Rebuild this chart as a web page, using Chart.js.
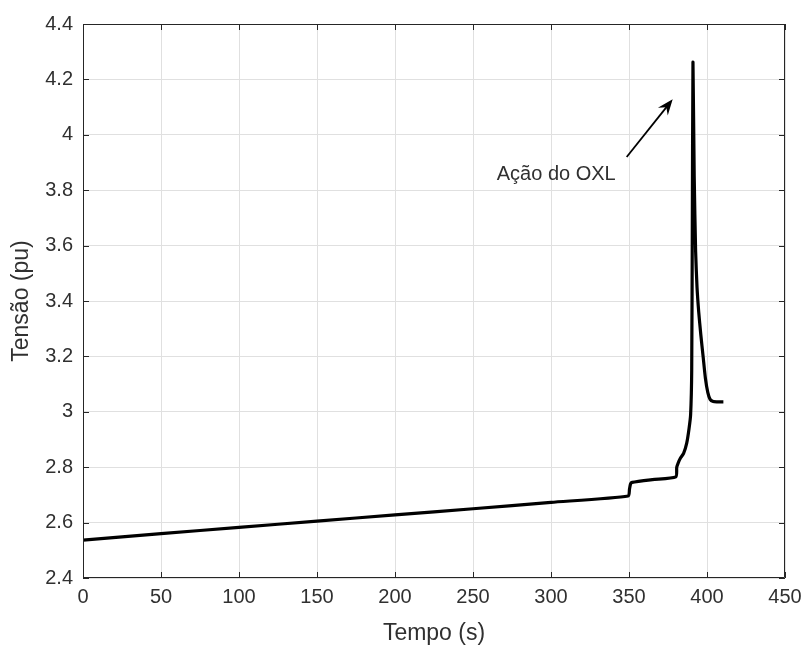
<!DOCTYPE html>
<html lang="pt">
<head>
    <meta charset="UTF-8">
    <title>Tensão x Tempo</title>
    <script src="https://cdn.jsdelivr.net/npm/chart.js"></script>
    <style>
        body { margin: 0; background: #fff; }
        .chart-container { position: relative; width: 805px; height: 648px; }
    </style>
</head>
<body>
    <div class="chart-container">
        <canvas id="voltageChart" width="805" height="648"></canvas>
    </div>

    <script>
        // values
        const timeS = [0, 50, 100, 150, 200, 250, 300, 349.5, 350.3, 351, 352, 365, 380, 380.6, 381.5, 383, 385, 387, 388.5, 389.5, 390.2, 390.6, 391, 391.8, 392.7, 393.6, 394.7, 396, 397.5, 399, 400.5, 402, 404, 406.5, 410.5];
        const voltagePu = [2.537, 2.560, 2.583, 2.605, 2.628, 2.650, 2.673, 2.696, 2.720, 2.740, 2.745, 2.755, 2.765, 2.800, 2.815, 2.833, 2.850, 2.887, 2.940, 2.990, 3.150, 3.700, 4.262, 3.850, 3.580, 3.450, 3.360, 3.280, 3.200, 3.120, 3.070, 3.045, 3.037, 3.036, 3.036];

        const xTicks = [0, 50, 100, 150, 200, 250, 300, 350, 400, 450];
        const yTicks = [2.4, 2.6, 2.8, 3, 3.2, 3.4, 3.6, 3.8, 4, 4.2, 4.4];

        const noteText = 'Ação do OXL';
        const noteAt = [341.5, 3.855];
        const arrowFrom = [348.5, 3.92];
        const arrowTo = [378, 4.128];

        const textColor = '#303030';
        const fontFamily = '"Liberation Sans", Arial, sans-serif';

        // MATLAB style box with inward ticks, plus the annotation
        const boxPlugin = {
            id: 'boxPlugin',
            afterDatasetsDraw(chart) {
                const { ctx, chartArea: a, scales } = chart;
                const x = scales.x, y = scales.y;
                ctx.save();
                ctx.strokeStyle = '#262626';
                ctx.lineWidth = 1;
                ctx.beginPath();
                ctx.rect(a.left + 0.5, a.top + 0.5, a.right - a.left - 1, a.bottom - a.top - 1);
                xTicks.forEach(t => {
                    const px = Math.round(x.getPixelForValue(t)) + 0.5;
                    ctx.moveTo(px, a.bottom); ctx.lineTo(px, a.bottom - 6);
                    ctx.moveTo(px, a.top); ctx.lineTo(px, a.top + 6);
                });
                yTicks.forEach(t => {
                    const py = Math.round(y.getPixelForValue(t)) + 0.5;
                    ctx.moveTo(a.left, py); ctx.lineTo(a.left + 6, py);
                    ctx.moveTo(a.right, py); ctx.lineTo(a.right - 6, py);
                });
                ctx.stroke();

                // annotation text
                ctx.fillStyle = textColor;
                ctx.font = '20px ' + fontFamily;
                ctx.textAlign = 'right';
                ctx.textBaseline = 'middle';
                ctx.fillText(noteText, x.getPixelForValue(noteAt[0]), y.getPixelForValue(noteAt[1]));

                // arrow
                const x0 = x.getPixelForValue(arrowFrom[0]), y0 = y.getPixelForValue(arrowFrom[1]);
                const x1 = x.getPixelForValue(arrowTo[0]), y1 = y.getPixelForValue(arrowTo[1]);
                const ang = Math.atan2(y1 - y0, x1 - x0);
                const head = 17, spread = 0.38;
                ctx.strokeStyle = '#000';
                ctx.lineWidth = 1.8;
                ctx.beginPath();
                ctx.moveTo(x0, y0);
                ctx.lineTo(x1 - Math.cos(ang) * 8, y1 - Math.sin(ang) * 8);
                ctx.stroke();
                ctx.fillStyle = '#000';
                ctx.beginPath();
                ctx.moveTo(x1, y1);
                ctx.lineTo(x1 - head * Math.cos(ang - spread), y1 - head * Math.sin(ang - spread));
                ctx.lineTo(x1 - head * 0.6 * Math.cos(ang), y1 - head * 0.6 * Math.sin(ang));
                ctx.lineTo(x1 - head * Math.cos(ang + spread), y1 - head * Math.sin(ang + spread));
                ctx.closePath();
                ctx.fill();
                ctx.restore();
            }
        };

        const points = timeS.map((t, i) => ({ x: t, y: voltagePu[i] }));

        const ctx = document.getElementById('voltageChart').getContext('2d');
        new Chart(ctx, {
            type: 'scatter',
            data: {
                datasets: [{
                    label: 'Tensão',
                    data: points,
                    showLine: true,
                    borderColor: '#000',
                    borderWidth: 3.2,
                    pointRadius: 0,
                    tension: 0.2,
                    fill: false
                }]
            },
            options: {
                responsive: false,
                animation: false,
                layout: { padding: { top: 24, right: 20, left: 0, bottom: 0 } },
                plugins: {
                    legend: { display: false },
                    tooltip: { enabled: false }
                },
                scales: {
                    x: {
                        type: 'linear',
                        min: 0,
                        max: 450,
                        afterBuildTicks: s => { s.ticks = xTicks.map(v => ({ value: v })); },
                        afterFit: s => { s.height = 70; s.paddingLeft = 0; s.paddingRight = 0; },
                        grid: { color: '#e0e0e0', drawTicks: false },
                        border: { display: false },
                        ticks: {
                            padding: 7,
                            color: textColor,
                            font: { family: fontFamily, size: 20 },
                            maxRotation: 0
                        },
                        title: {
                            display: true,
                            text: 'Tempo (s)',
                            color: textColor,
                            font: { family: fontFamily, size: 23 },
                            padding: { top: 0, bottom: 1 }
                        }
                    },
                    y: {
                        type: 'linear',
                        min: 2.4,
                        max: 4.4,
                        afterBuildTicks: s => { s.ticks = yTicks.map(v => ({ value: v })); },
                        afterFit: s => { s.width = 83; s.paddingTop = 0; s.paddingBottom = 0; },
                        grid: { color: '#e0e0e0', drawTicks: false },
                        border: { display: false },
                        ticks: {
                            padding: 10,
                            color: textColor,
                            font: { family: fontFamily, size: 20 },
                            callback: v => String(Math.round(v * 10) / 10)
                        },
                        title: {
                            display: true,
                            text: 'Tensão (pu)',
                            color: textColor,
                            font: { family: fontFamily, size: 23 },
                            padding: { top: 8, bottom: 0 }
                        }
                    }
                }
            },
            plugins: [boxPlugin]
        });
    </script>
</body>
</html>
